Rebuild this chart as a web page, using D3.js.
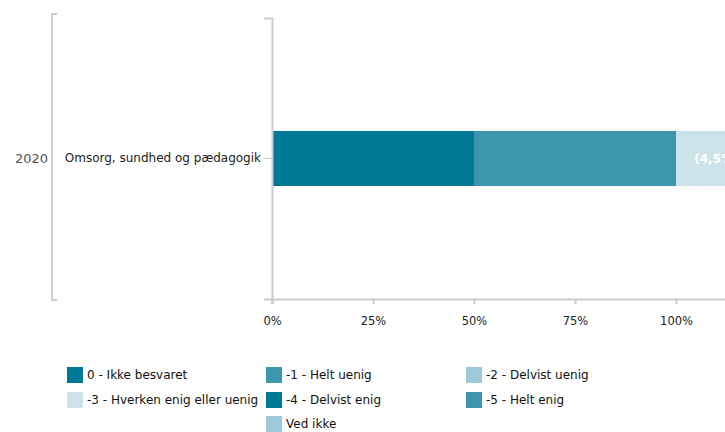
<!DOCTYPE html>
<html><head><meta charset="utf-8">
<script src="https://cdn.jsdelivr.net/npm/d3@7"></script>
<style>body{margin:0;background:#fff;overflow:hidden}svg{display:block}</style>
</head><body>
<script>
const groups = ["2020"];
const categories = ["Omsorg, sundhed og pædagogik"];
const seriesNames = ["0 - Ikke besvaret","-1 - Helt uenig","-2 - Delvist uenig","-3 - Hverken enig eller uenig","-4 - Delvist enig","-5 - Helt enig","Ved ikke"];
const seriesColors = ["#007896","#3d96ad","#9ccad8","#cce3ea","#007896","#3d96ad","#9ccad8"];
const values = [[50, 50, 0, 20, 0, 0, 0]];
const segLabels = ["", "", "", "(4,5%)", "", "", ""];
const xTicks = [0, 25, 50, 75, 100];
const legendCols = [0,1,2,0,1,2,1];
const legendRows = [0,0,0,1,1,1,2];

const W = 725, H = 432;
const svg = d3.select("body").append("svg").attr("width", W).attr("height", H);
const font = "Tahoma, 'DejaVu Sans', sans-serif";

const x = d3.scaleLinear().domain([0, 125]).range([272, 777]);
const y = d3.scaleBand().domain(categories).range([18, 299]).paddingInner(0).paddingOuter(2.05);

// bars
categories.forEach((c, ci) => {
  let acc = 0;
  values[ci].forEach((v, si) => {
    if (v > 0) {
      svg.append("rect").attr("x", x(acc)).attr("y", y(c)).attr("width", x(acc + v) - x(acc))
        .attr("height", y.bandwidth()).attr("fill", seriesColors[si]);
      if (segLabels[si]) {
        svg.append("text").attr("x", (x(acc) + x(acc + v)) / 2).attr("y", y(c) + y.bandwidth() / 2)
          .attr("text-anchor", "middle").attr("dominant-baseline", "central")
          .attr("font-family", font).attr("font-size", 12).attr("font-weight", "bold")
          .attr("fill", "#fff").text(segLabels[si]);
      }
    }
    acc += v;
  });
});

// x axis
const xAxis = svg.append("g").attr("transform", "translate(0,299)")
  .call(d3.axisBottom(x).tickValues(xTicks).tickFormat(d => d + "%").tickSizeOuter(0).tickSize(5));
xAxis.select(".domain").attr("stroke", "#c8ccd0").attr("stroke-width", 2);
xAxis.selectAll(".tick line").attr("stroke", "#c8ccd0").attr("stroke-width", 2);
xAxis.selectAll(".tick text").attr("font-family", font).attr("font-size", 11.5).attr("fill", "#222").attr("dy", "1.6em");

// y axis
const yAxis = svg.append("g").attr("transform", "translate(272,0)")
  .call(d3.axisLeft(y).tickSizeOuter(0).tickSize(8).tickPadding(3));
yAxis.select(".domain").attr("stroke", "#c8ccd0").attr("stroke-width", 2);
yAxis.selectAll(".tick line").attr("stroke", "#c8ccd0");
yAxis.selectAll(".tick text").attr("font-family", font).attr("font-size", 12).attr("fill", "#222");

// group bracket
svg.append("path").attr("d", "M57,14H52V300H57").attr("fill", "none").attr("stroke", "#b4b8bc").attr("stroke-width", 1.3);
svg.append("text").attr("x", 48).attr("y", y(categories[0]) + y.bandwidth() / 2)
  .attr("text-anchor", "end").attr("dominant-baseline", "central")
  .attr("font-family", font).attr("font-size", 13).attr("fill", "#555").text(groups[0]);

// legend
const colX = [67, 266, 466], rowY = [367, 392, 416];
seriesNames.forEach((n, i) => {
  const g = svg.append("g").attr("transform", `translate(${colX[legendCols[i]]},${rowY[legendRows[i]]})`);
  g.append("rect").attr("width", 16).attr("height", 16).attr("fill", seriesColors[i]);
  g.append("text").attr("x", 20).attr("y", 8).attr("dominant-baseline", "central")
    .attr("font-family", font).attr("font-size", 12).attr("fill", "#111").text(n);
});
</script>
</body></html>
